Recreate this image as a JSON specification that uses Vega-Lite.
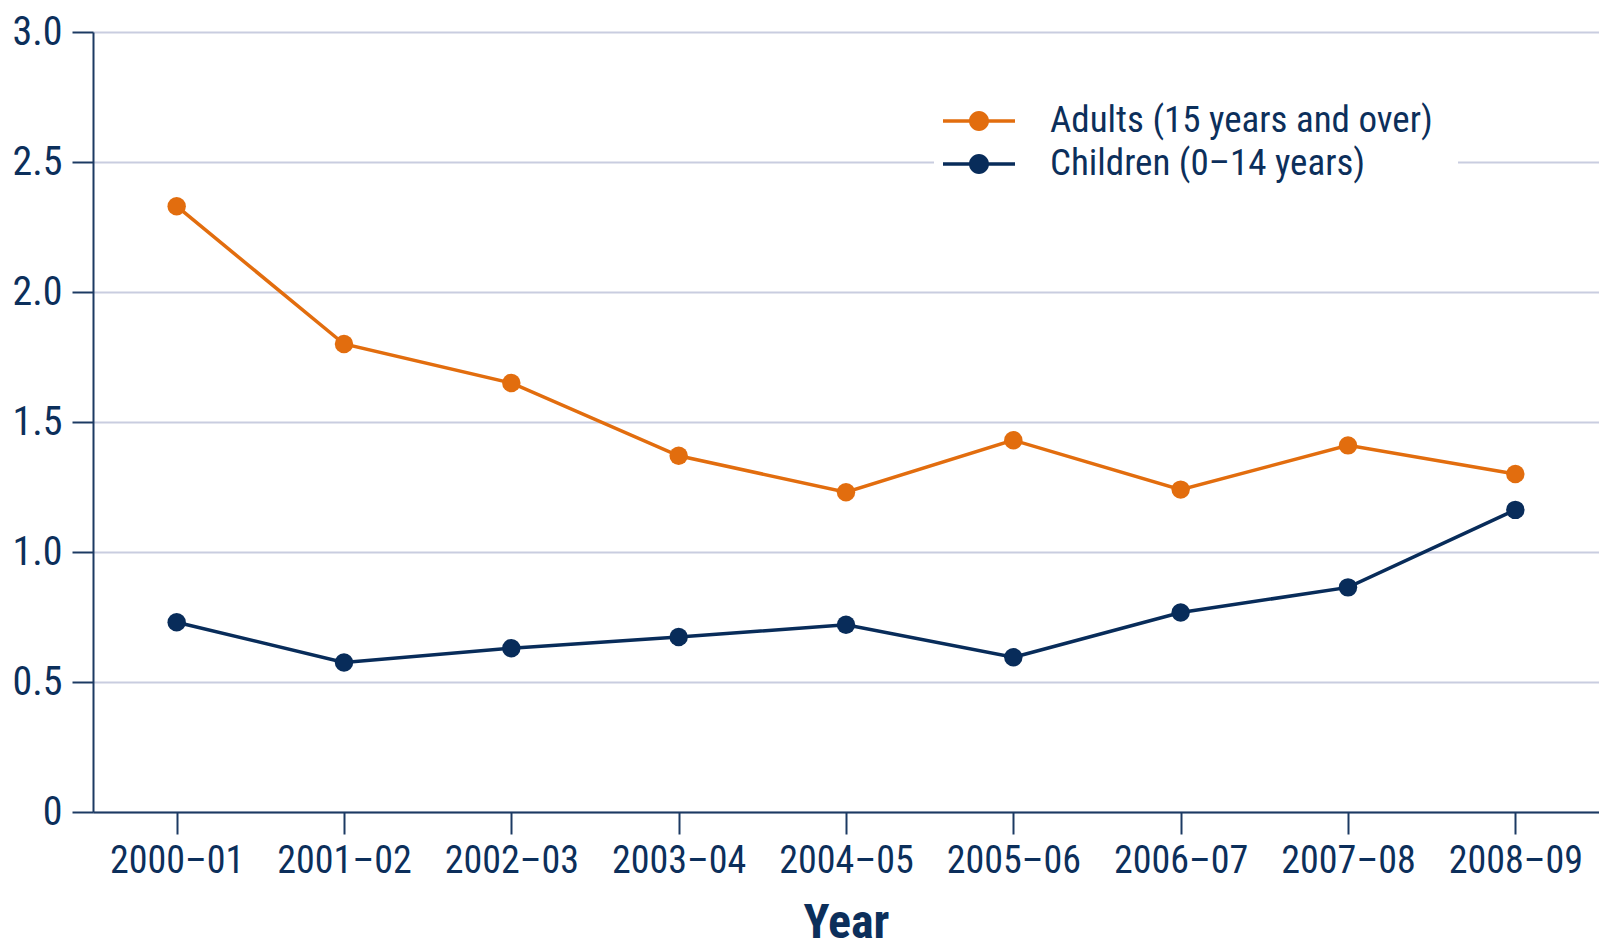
{
  "$schema": "https://vega.github.io/schema/vega-lite/v6.json",
  "width": 1506,
  "height": 780,
  "autosize": {"type": "none"},
  "padding": {"left": 93, "top": 32, "right": 0, "bottom": 137},
  "background": "white",
  "config": {
    "view": {"stroke": null},
    "font": "Roboto Condensed, Open Sans Condensed, DejaVu Sans Condensed, sans-serif",
    "axis": {
      "labelFont": "Roboto Condensed, Open Sans Condensed, DejaVu Sans Condensed, sans-serif",
      "titleFont": "Roboto Condensed, Open Sans Condensed, DejaVu Sans Condensed, sans-serif",
      "labelColor": "#0c2f5b",
      "titleColor": "#0c2f5b",
      "domainColor": "#1c3a63",
      "domainWidth": 2,
      "tickColor": "#1c3a63",
      "tickWidth": 2,
      "tickSize": 21,
      "gridColor": "#c9cde0",
      "gridWidth": 2
    },
    "legend": {
      "labelFont": "Roboto Condensed, Open Sans Condensed, DejaVu Sans Condensed, sans-serif"
    }
  },
  "data": {
    "values": [
      {"year": "2000–01", "group": "Adults (15 years and over)", "rate": 2.33},
      {"year": "2001–02", "group": "Adults (15 years and over)", "rate": 1.80},
      {"year": "2002–03", "group": "Adults (15 years and over)", "rate": 1.65},
      {"year": "2003–04", "group": "Adults (15 years and over)", "rate": 1.37},
      {"year": "2004–05", "group": "Adults (15 years and over)", "rate": 1.23},
      {"year": "2005–06", "group": "Adults (15 years and over)", "rate": 1.43},
      {"year": "2006–07", "group": "Adults (15 years and over)", "rate": 1.24},
      {"year": "2007–08", "group": "Adults (15 years and over)", "rate": 1.41},
      {"year": "2008–09", "group": "Adults (15 years and over)", "rate": 1.30},
      {"year": "2000–01", "group": "Children (0–14 years)", "rate": 0.73},
      {"year": "2001–02", "group": "Children (0–14 years)", "rate": 0.575},
      {"year": "2002–03", "group": "Children (0–14 years)", "rate": 0.63},
      {"year": "2003–04", "group": "Children (0–14 years)", "rate": 0.673},
      {"year": "2004–05", "group": "Children (0–14 years)", "rate": 0.72},
      {"year": "2005–06", "group": "Children (0–14 years)", "rate": 0.595},
      {"year": "2006–07", "group": "Children (0–14 years)", "rate": 0.767},
      {"year": "2007–08", "group": "Children (0–14 years)", "rate": 0.864},
      {"year": "2008–09", "group": "Children (0–14 years)", "rate": 1.162}
    ]
  },
  "mark": {
    "type": "line",
    "strokeWidth": 3.5,
    "point": {"size": 340, "filled": true, "opacity": 1}
  },
  "encoding": {
    "x": {
      "field": "year",
      "type": "ordinal",
      "scale": {"type": "point", "padding": 0.5},
      "axis": {
        "title": "Year",
        "titleFontSize": 48,
        "titleFontWeight": "bold",
        "titlePadding": 19,
        "labelFontSize": 38,
        "labelAngle": 0,
        "labelPadding": 8,
        "tickSize": 22,
        "grid": false
      }
    },
    "y": {
      "field": "rate",
      "type": "quantitative",
      "scale": {"domain": [0, 3], "nice": false},
      "axis": {
        "title": null,
        "values": [0, 0.5, 1, 1.5, 2, 2.5, 3],
        "labelExpr": "datum.value == 0 ? '0' : format(datum.value, '.1f')",
        "labelFontSize": 40,
        "labelPadding": 10,
        "grid": true
      }
    },
    "color": {
      "field": "group",
      "type": "nominal",
      "scale": {
        "domain": ["Adults (15 years and over)", "Children (0–14 years)"],
        "range": ["#e26d0e", "#082c5a"]
      },
      "legend": {
        "title": null,
        "orient": "none",
        "legendX": 841,
        "legendY": 44,
        "fillColor": "white",
        "padding": 25,
        "labelFontSize": 37,
        "labelColor": "#0c2f5b",
        "labelLimit": 600,
        "labelOffset": 51,
        "rowPadding": 5,
        "symbolType": "M-1.8,-0.0875L1.8,-0.0875L1.8,0.0875L-1.8,0.0875Z M0.5,0A0.5,0.5 0 1,1 -0.5,0A0.5,0.5 0 1,1 0.5,0Z",
        "symbolSize": 1600,
        "symbolStrokeWidth": 0,
        "symbolOpacity": 1
      }
    }
  }
}
